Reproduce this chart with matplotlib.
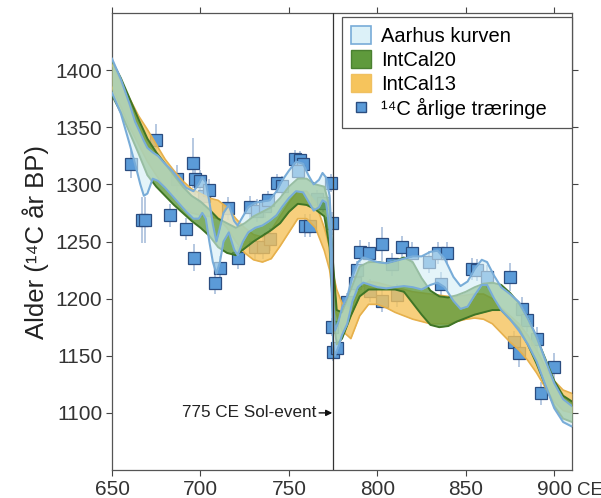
import matplotlib
matplotlib.use("Agg")
import matplotlib.pyplot as plt
from matplotlib.patches import Patch
from matplotlib.lines import Line2D

plt.rcParams['font.family'] = ['Liberation Sans', 'DejaVu Sans']

# Aarhus curve: year, upper, lower
aarhus_year = [650, 655, 660, 663, 666, 668, 670, 673, 676, 680, 684, 688, 692, 696, 699, 701, 703,
               705, 707, 709, 711, 713, 716, 719, 721, 724, 727, 731, 735, 739, 743, 746, 750, 754,
               758, 761, 764, 767, 769, 771, 773, 774, 775, 776, 778, 780, 783, 786, 789, 792, 796,
               800, 805, 810, 815, 820, 825, 830, 834, 838, 843, 847, 851, 855, 859, 862, 866, 870,
               875, 880, 885, 890, 895, 900, 905, 910]
aarhus_hi = [1410, 1392, 1370, 1355, 1345, 1338, 1332, 1328, 1325, 1318, 1312, 1304, 1297, 1294, 1300,
             1306, 1302, 1285, 1265, 1250, 1262, 1275, 1282, 1268, 1264, 1272, 1280, 1284, 1285, 1286,
             1294, 1303, 1312, 1320, 1318, 1308, 1300, 1304, 1310, 1306, 1290, 1260, 1200, 1172, 1180,
             1192, 1202, 1220, 1232, 1236, 1234, 1232, 1231, 1233, 1235, 1237, 1237, 1241, 1242, 1235,
             1219, 1211, 1215, 1226, 1234, 1232, 1220, 1210, 1204, 1197, 1183, 1167, 1146, 1126, 1112, 1106]
aarhus_lo = [1380, 1362, 1335, 1318, 1300, 1290, 1292, 1305, 1303, 1297, 1290, 1283, 1276, 1270, 1270,
             1275, 1270, 1250, 1232, 1222, 1232, 1250, 1258, 1243, 1238, 1250, 1258, 1262, 1264, 1268,
             1273, 1280, 1288, 1294, 1293, 1285, 1277, 1280, 1286, 1284, 1260, 1220, 1160, 1150, 1158,
             1168, 1178, 1198, 1210, 1214, 1212, 1210, 1209, 1210, 1211, 1210, 1208, 1212, 1214, 1210,
             1198, 1191, 1193, 1203, 1212, 1212, 1200, 1190, 1182, 1172, 1160, 1145, 1124, 1104, 1092, 1088]

# IntCal20
ic20_year = [650, 655, 660, 665, 670, 675, 680, 685, 690, 695, 700, 705, 710, 715, 720, 725, 730, 735,
             740, 745, 750, 755, 760, 765, 770, 773, 775, 777, 780, 785, 790, 795, 800, 805, 810, 815,
             820, 825, 830, 835, 840, 845, 850, 855, 860, 865, 870, 875, 880, 885, 890, 895, 900, 905, 910]
ic20_hi = [1408, 1393, 1375, 1357, 1340, 1328, 1318, 1308, 1298, 1290, 1285, 1278, 1270, 1266, 1262,
           1266, 1272, 1276, 1280, 1288, 1298, 1305, 1305, 1300, 1298, 1280, 1230, 1190, 1188, 1208,
           1228, 1232, 1232, 1231, 1233, 1236, 1232, 1218, 1207, 1202, 1201, 1203, 1206, 1210, 1213,
           1214, 1212, 1205, 1196, 1183, 1166, 1147, 1128, 1115, 1110]
ic20_lo = [1378, 1363, 1345, 1327, 1308, 1298, 1290, 1282, 1275, 1268, 1262, 1255, 1245, 1240, 1238,
           1244, 1250, 1255, 1260, 1266, 1276, 1283, 1282, 1278, 1272, 1245, 1185, 1160, 1165, 1185,
           1202, 1208, 1208, 1208, 1208, 1206, 1196, 1186, 1177, 1175, 1176, 1180, 1183, 1186, 1188,
           1190, 1190, 1182, 1174, 1160, 1143, 1124, 1106, 1095, 1092]

# IntCal13
ic13_year = ic20_year
ic13_hi = [1405, 1390, 1375, 1360, 1348, 1335, 1322, 1312, 1303, 1296, 1292, 1288, 1286, 1280, 1270,
           1262, 1256, 1254, 1260, 1272, 1284, 1294, 1294, 1284, 1262, 1245, 1222, 1208, 1196, 1190,
           1208, 1215, 1214, 1212, 1210, 1208, 1206, 1205, 1204, 1203, 1202, 1202, 1203, 1204, 1204,
           1200, 1192, 1185, 1178, 1168, 1155, 1140, 1128, 1120, 1117]
ic13_lo = [1385, 1368, 1350, 1335, 1320, 1308, 1297, 1288, 1280, 1275, 1273, 1272, 1270, 1262, 1250,
           1240, 1234, 1232, 1235, 1246, 1258, 1270, 1270, 1262, 1242, 1225, 1200, 1186, 1172, 1165,
           1185, 1195, 1195, 1192, 1188, 1185, 1182, 1180, 1178, 1178, 1178, 1180, 1182, 1183, 1182,
           1178, 1170, 1162, 1155, 1146, 1135, 1122, 1110, 1102, 1100]

# 14C annual tree rings
ring_year = [660.8, 666.8, 668.7, 674.7, 682.8, 687, 692, 695.5, 697, 699.8, 702, 705, 696.6, 708, 711,
             715.7, 721, 728, 732, 731, 735.5, 739.5, 736.6, 738, 743, 746, 753.6, 756.5, 758, 755, 759,
             762, 766, 769.5, 773.5, 774.6, 774.4, 775, 777, 783, 787.6, 788.6, 790.4, 795, 796, 802.7,
             802.7, 808.4, 811, 814, 819.7, 829, 834, 839.5, 835.7, 853.7, 856.5, 862, 875, 882, 884.8,
             877, 880, 890.5, 900, 892.4]
ring_age = [1318, 1269, 1269, 1339, 1273, 1305, 1261, 1319, 1305, 1303, 1290, 1295, 1236, 1214, 1227,
            1279, 1236, 1280, 1277, 1245, 1245, 1252, 1281, 1286, 1301, 1299, 1322, 1321, 1318, 1312, 1264,
            1264, 1287, 1284, 1301, 1266, 1175, 1153, 1157, 1197, 1214, 1225, 1241, 1240, 1207, 1248,
            1198, 1230, 1203, 1245, 1240, 1232, 1240, 1240, 1213, 1226, 1225, 1219, 1219, 1191, 1181,
            1162, 1152, 1165, 1140, 1117]
ring_err = [12, 20, 20, 14, 10, 12, 10, 22, 14, 10, 10, 10, 12, 10, 10,
            10, 10, 10, 10, 10, 10, 10, 10, 8, 8, 8, 8, 8, 8, 8, 10,
            10, 8, 8, 8, 10, 8, 8, 8, 8, 8, 8, 10, 10, 10, 15,
            10, 10, 10, 10, 10, 10, 10, 10, 10, 10, 10, 10, 12, 10, 10,
            10, 12, 10, 12, 10]

fig = plt.figure(figsize=(6.01, 4.98), dpi=100)
ax = fig.add_axes([0.1864, 0.0562, 0.7653, 0.9177])

ax.errorbar(ring_year, ring_age, yerr=ring_err, fmt='none', ecolor='#a9bfdc', elinewidth=1.2, zorder=2)
ax.plot(ring_year, ring_age, 's', ms=8.5, mfc='#5b9bd8', mec='#2b4d80', mew=0.9, zorder=2)

ax.fill_between(ic13_year, ic13_lo, ic13_hi, color='#f6c45c', alpha=0.8, lw=0, zorder=3)
ax.plot(ic13_year, ic13_hi, color='#e6b04c', lw=1.2, zorder=3)
ax.plot(ic13_year, ic13_lo, color='#e6b04c', lw=1.2, zorder=3)

ax.fill_between(ic20_year, ic20_lo, ic20_hi, color='#5f9a3c', alpha=0.8, lw=0, zorder=4)
ax.plot(ic20_year, ic20_hi, color='#3f7526', lw=1.4, zorder=4)
ax.plot(ic20_year, ic20_lo, color='#3f7526', lw=1.4, zorder=4)

ax.fill_between(aarhus_year, aarhus_lo, aarhus_hi, color='#d3eef6', alpha=0.6, lw=0, zorder=5)
ax.plot(aarhus_year, aarhus_hi, color='#78acd8', lw=1.5, zorder=5)
ax.plot(aarhus_year, aarhus_lo, color='#78acd8', lw=1.5, zorder=5)

ax.axvline(775, color='#333333', lw=0.9, zorder=6)
ax.annotate('775 CE Sol-event', xy=(774.5, 1100), xytext=(765.5, 1100), ha='right', va='center',
            fontsize=12.3, color='#222222',
            arrowprops=dict(arrowstyle='-|>', color='#111111', lw=1, mutation_scale=9, shrinkA=0, shrinkB=0))

ax.set_xlim(650, 910)
ax.set_ylim(1050, 1450)
ax.set_xticks([650, 700, 750, 800, 850, 900])
ax.set_yticks([1100, 1150, 1200, 1250, 1300, 1350, 1400])
ax.tick_params(axis='both', labelsize=15, color='#444444', labelcolor='#333333', length=4,
               top=True, right=True, labeltop=False, labelright=False, pad=3)
# "CE" after the last tick label
ax.annotate('CE', xy=(900, 0), xycoords=('data', 'axes fraction'), xytext=(16, -8.3),
            textcoords='offset points', ha='left', va='top', fontsize=13.5, color='#333333')
for s in ax.spines.values():
    s.set_color('#555555')
    s.set_linewidth(0.9)
ax.set_ylabel('Alder (\u00b9\u2074C \u00e5r BP)', fontsize=18.5, labelpad=5, color='#222222')

handles = [Patch(facecolor='#dcf1f8', edgecolor='#78acd8', lw=1.2),
           Patch(facecolor='#5f9a3c', edgecolor='#4a8030'),
           Patch(facecolor='#f6c45c', edgecolor='#f0c060'),
           Line2D([], [], ls='none', marker='s', ms=7, mfc='#5b9bd8', mec='#2b4d80')]
labels = ['Aarhus kurven', 'IntCal20', 'IntCal13', '\u00b9\u2074C \u00e5rlige tr\u00e6ringe']
leg = ax.legend(handles, labels, loc='upper left', bbox_to_anchor=(0.5, 0.0, 0.5, 0.991),
                mode='expand', borderaxespad=0,
                fontsize=14.5, fancybox=False, framealpha=1, edgecolor='#555555',
                handlelength=1.0, handleheight=1.0, handletextpad=0.5, labelspacing=0.2,
                borderpad=0.45)
leg.get_frame().set_linewidth(0.9)
leg.set_zorder(10)

fig.savefig('out.png', dpi=100)
